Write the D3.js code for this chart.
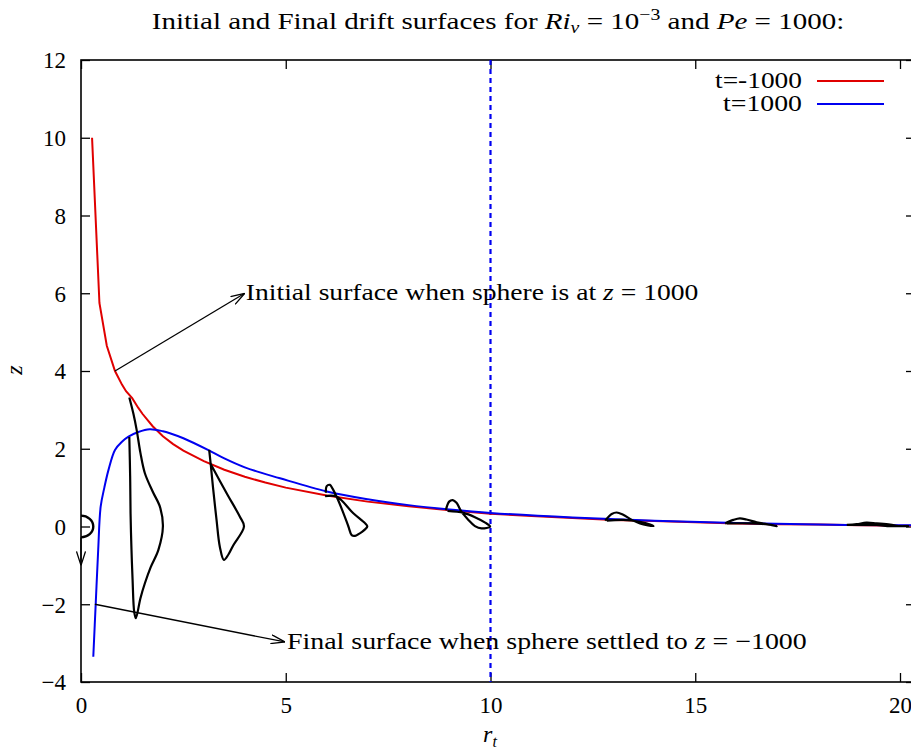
<!DOCTYPE html>
<html>
<head>
<meta charset="utf-8">
<script src="https://cdn.jsdelivr.net/npm/d3@7"></script>
<style>
  html, body { margin: 0; padding: 0; background: #fff; }
  svg { display: block; }
  text { font-family: "Liberation Serif", "Times New Roman", serif; fill: #000; }
</style>
</head>
<body>
<svg id="chart" width="911" height="751"></svg>
<script>
// Drift surface at t = -1000 (sphere at z = 1000)
const rInitial = [0.27, 0.45, 0.63, 0.83, 1.0, 1.1, 1.25, 1.4, 1.5, 1.75, 2.0, 2.25, 2.5, 3.0, 3.5, 4.0, 4.5, 5.0, 6.0, 7.0, 8.0, 9.0, 10, 11, 12, 13, 14, 15, 16, 17, 18, 19, 20, 20.5];
const zInitial = [10.0, 5.75, 4.65, 4.0, 3.65, 3.48, 3.3, 3.05, 2.9, 2.58, 2.32, 2.12, 1.95, 1.68, 1.46, 1.28, 1.13, 1.0, 0.8, 0.64, 0.52, 0.42, 0.33, 0.27, 0.22, 0.17, 0.14, 0.11, 0.08, 0.06, 0.05, 0.03, 0.02, 0.02];

// Drift surface at t = 1000 (sphere settled to z = -1000)
const rFinal = [0.3, 0.36, 0.42, 0.48, 0.57, 0.67, 0.83, 1.0, 1.16, 1.4, 1.68, 2.0, 2.17, 2.5, 3.1, 3.5, 4.0, 4.86, 6.0, 7.0, 8.0, 9.0, 10, 12, 14, 16, 18, 20, 20.5];
const zFinal = [-3.35, -1.97, -0.6, 0.51, 1.0, 1.45, 1.97, 2.18, 2.31, 2.43, 2.5, 2.45, 2.4, 2.27, 1.97, 1.75, 1.52, 1.24, 0.9, 0.7, 0.55, 0.44, 0.35, 0.23, 0.15, 0.09, 0.05, 0.03, 0.03];

// Deformed material lines at several radial stations, as [r, z]
const loopR1 = [[1.18, 3.32], [1.28, 2.9], [1.36, 2.48], [1.45, 1.9], [1.56, 1.37], [1.75, 0.9], [1.93, 0.5], [2.0, 0.0], [1.89, -0.6], [1.7, -1.05], [1.56, -1.46], [1.45, -1.85], [1.34, -2.36], [1.3, -2.2], [1.26, -1.38], [1.23, -0.5], [1.21, 0.34], [1.2, 1.3], [1.18, 2.3]];
const loopR3 = [[3.13, 1.97], [3.17, 1.58], [3.23, 0.94], [3.31, 0.17], [3.39, -0.52], [3.49, -0.86], [3.6, -0.72], [3.72, -0.48], [3.98, 0.0], [3.88, 0.25], [3.56, 0.85], [3.17, 1.6]];
const loopR6 = [[5.98, 0.87], [6.0, 1.04], [6.08, 1.07], [6.14, 0.98], [6.24, 0.77], [6.41, 0.34], [6.53, 0.0], [6.61, -0.22], [6.69, -0.24], [6.99, 0.0], [6.94, 0.08], [6.65, 0.34], [6.24, 0.77], [5.96, 0.78]];
const loopR9 = [[8.91, 0.42], [8.99, 0.64], [9.08, 0.68], [9.17, 0.61], [9.29, 0.38], [9.46, 0.17], [9.62, 0.01], [9.78, -0.05], [9.99, 0.0], [9.87, 0.1], [9.62, 0.24], [9.34, 0.35], [8.95, 0.40]];
const loopR13 = [[12.8, 0.15], [12.96, 0.32], [13.08, 0.36], [13.24, 0.3], [13.45, 0.17], [13.65, 0.08], [13.98, 0.01], [13.9, 0.05], [13.65, 0.12], [13.24, 0.17], [12.84, 0.15]];
const loopR16 = [[15.73, 0.08], [15.93, 0.17], [16.09, 0.21], [16.25, 0.18], [16.5, 0.11], [16.74, 0.06], [16.99, 0.01], [16.8, 0.05], [16.4, 0.08], [15.77, 0.08]];
const loopR19 = [[18.7, 0.04], [18.94, 0.06], [19.18, 0.1], [19.43, 0.08], [19.76, 0.05], [19.96, 0.01], [20.2, 0.01], [19.76, 0.01], [19.43, 0.04], [18.94, 0.04], [18.7, 0.04]];

const xTicks = [0, 5, 10, 15, 20];
const yTicks = [-4, -2, 0, 2, 4, 6, 8, 10, 12];
const seriesNames = ["t=-1000", "t=1000"];
const seriesColors = ["#e00000", "#0000f0"];

const svg = d3.select("#chart");
const plotLeft = 81, plotTop = 60, plotBottom = 682, plotRight = 915;

const x = d3.scaleLinear().domain([0, 20]).range([81, 900]);
const y = d3.scaleLinear().domain([-4, 12]).range([plotBottom, plotTop]);

const defs = svg.append("defs");
defs.append("clipPath").attr("id", "plotClip")
  .append("rect").attr("x", plotLeft).attr("y", plotTop)
  .attr("width", plotRight - plotLeft).attr("height", plotBottom - plotTop);

defs.append("marker")
  .attr("id", "vhead").attr("viewBox", "0 0 14 10")
  .attr("refX", 14).attr("refY", 5)
  .attr("markerWidth", 14).attr("markerHeight", 10)
  .attr("markerUnits", "userSpaceOnUse")
  .attr("orient", "auto")
  .append("path").attr("d", "M0,0.5 L14,5 L0,9.5")
  .attr("fill", "none").attr("stroke", "#000").attr("stroke-width", 1.3);

// Text block anchored at (px, py), stretched horizontally to a given width
function wideText(px, py, anchor, size, width) {
  const g = svg.append("g");
  const t = g.append("text").attr("x", 0).attr("y", 0)
    .attr("text-anchor", anchor).style("font-size", size + "px");
  t.fit = () => {
    const w = t.node().getBBox().width;
    g.attr("transform", `translate(${px},${py}) scale(${width / w},1)`);
  };
  return t;
}

// Axes: ticks on all four sides, pointing inward
const fmt = d => d < 0 ? "\u2212" + Math.abs(d) : String(d);
const tl = 9;
const axisBottom = d3.axisBottom(x).tickValues(xTicks).tickSizeInner(-tl).tickSizeOuter(0).tickPadding(15).tickFormat(fmt);
const axisTop = d3.axisTop(x).tickValues(xTicks).tickSizeInner(-tl).tickSizeOuter(0).tickFormat("");
const axisLeft = d3.axisLeft(y).tickValues(yTicks).tickSizeInner(-tl).tickSizeOuter(0).tickPadding(15).tickFormat(fmt);
const axisRight = d3.axisRight(y).tickValues(yTicks).tickSizeInner(-tl).tickSizeOuter(0).tickFormat("");

function styleAxis(g) {
  g.select(".domain").remove();
  g.selectAll(".tick line").attr("stroke", "#000").attr("stroke-width", 1.3);
  g.selectAll(".tick text").style("font-size", "23px").attr("fill", "#000");
}
svg.append("g").attr("transform", `translate(0,${plotBottom})`).call(axisBottom).call(styleAxis)
  .selectAll(".tick text").attr("dy", "0.71em");
svg.append("g").attr("transform", `translate(0,${plotTop})`).call(axisTop).call(styleAxis);
svg.append("g").attr("transform", `translate(${plotLeft},0)`).call(axisLeft).call(styleAxis)
  .selectAll(".tick text").attr("dy", "0.34em");
svg.append("g").attr("transform", `translate(${plotRight},0)`).call(axisRight).call(styleAxis);

// Plot frame
svg.append("rect").attr("x", plotLeft).attr("y", plotTop)
  .attr("width", plotRight - plotLeft).attr("height", plotBottom - plotTop)
  .attr("fill", "none").attr("stroke", "#000").attr("stroke-width", 1.6);

const plot = svg.append("g").attr("clip-path", "url(#plotClip)");

// Vertical dashed marker at r = 10
plot.append("line")
  .attr("x1", x(10)).attr("x2", x(10)).attr("y1", y(12)).attr("y2", y(-4))
  .attr("stroke", "#0000f0").attr("stroke-width", 2.2).attr("stroke-dasharray", "5,4");

const line = d3.line().x(d => x(d[0])).y(d => y(d[1]));
const smooth = d3.line().x(d => x(d[0])).y(d => y(d[1])).curve(d3.curveCatmullRom.alpha(0.5));

plot.append("path").datum(d3.zip(rInitial, zInitial))
  .attr("d", line).attr("fill", "none").attr("stroke", seriesColors[0]).attr("stroke-width", 2);
plot.append("path").datum(d3.zip(rFinal, zFinal))
  .attr("d", smooth).attr("fill", "none").attr("stroke", seriesColors[1]).attr("stroke-width", 2);

[loopR1, loopR3, loopR6, loopR9, loopR13, loopR16, loopR19].forEach(pts => {
  plot.append("path").datum(pts).attr("d", smooth)
    .attr("fill", "none").attr("stroke", "#000").attr("stroke-width", 2.2)
    .attr("stroke-linejoin", "round");
});

// Sphere at the origin and its direction of travel
plot.append("ellipse")
  .attr("cx", x(0)).attr("cy", y(0))
  .attr("rx", x(0.3) - x(0)).attr("ry", y(0) - y(0.28))
  .attr("fill", "none").attr("stroke", "#000").attr("stroke-width", 2.4);
svg.append("line")
  .attr("x1", x(0)).attr("y1", y(-0.28)).attr("x2", x(0)).attr("y2", y(-1.0))
  .attr("stroke", "#000").attr("stroke-width", 1.3).attr("marker-end", "url(#vhead)");

// Annotations
svg.append("line")
  .attr("x1", x(0.83)).attr("y1", y(4.0)).attr("x2", x(4.0)).attr("y2", y(6.0))
  .attr("stroke", "#000").attr("stroke-width", 1.3).attr("marker-end", "url(#vhead)");
svg.append("line")
  .attr("x1", x(0.34)).attr("y1", y(-2.0)).attr("x2", x(4.98)).attr("y2", y(-2.97))
  .attr("stroke", "#000").attr("stroke-width", 1.3).attr("marker-end", "url(#vhead)");

const note1 = wideText(x(4.0) + 1, y(6.0) + 7, "start", 23.5, 453);
note1.append("tspan").text("Initial surface when sphere is at ");
note1.append("tspan").style("font-style", "italic").text("z");
note1.append("tspan").text(" = 1000");
note1.fit();

const note2 = wideText(x(4.98) + 2, y(-2.97) + 7, "start", 23.5, 520);
note2.append("tspan").text("Final surface when sphere settled to ");
note2.append("tspan").style("font-style", "italic").text("z");
note2.append("tspan").text(" = \u22121000");
note2.fit();

// Title
const title = wideText(498, 29, "middle", 23.5, 693);
title.append("tspan").text("Initial and Final drift surfaces for ");
title.append("tspan").style("font-style", "italic").text("Ri");
title.append("tspan").style("font-style", "italic").style("font-size", "16px").attr("dy", 4).text("v");
title.append("tspan").attr("dy", -4).text(" = 10");
title.append("tspan").style("font-size", "16px").attr("dy", -9).text("\u22123");
title.append("tspan").attr("dy", 9).text(" and ");
title.append("tspan").style("font-style", "italic").text("Pe");
title.append("tspan").text(" = 1000:");
title.fit();

// Axis labels
const xl = svg.append("text").attr("x", 490).attr("y", 742).attr("text-anchor", "middle")
  .style("font-size", "24px");
xl.append("tspan").style("font-style", "italic").text("r");
xl.append("tspan").style("font-style", "italic").style("font-size", "16px").attr("dy", 5).text("t");

svg.append("text").attr("transform", "translate(22,370) rotate(-90)")
  .attr("text-anchor", "middle").style("font-size", "24px").style("font-style", "italic").text("z");

// Legend
const legendWidths = [87, 79];
seriesNames.forEach((name, i) => {
  const ly = 81 + i * 23;
  const lt = wideText(802, ly + 7, "end", 23, legendWidths[i]);
  lt.text(name);
  lt.fit();
  svg.append("line").attr("x1", 817).attr("x2", 884).attr("y1", ly).attr("y2", ly)
    .attr("stroke", seriesColors[i]).attr("stroke-width", 2);
});
</script>
</body>
</html>
